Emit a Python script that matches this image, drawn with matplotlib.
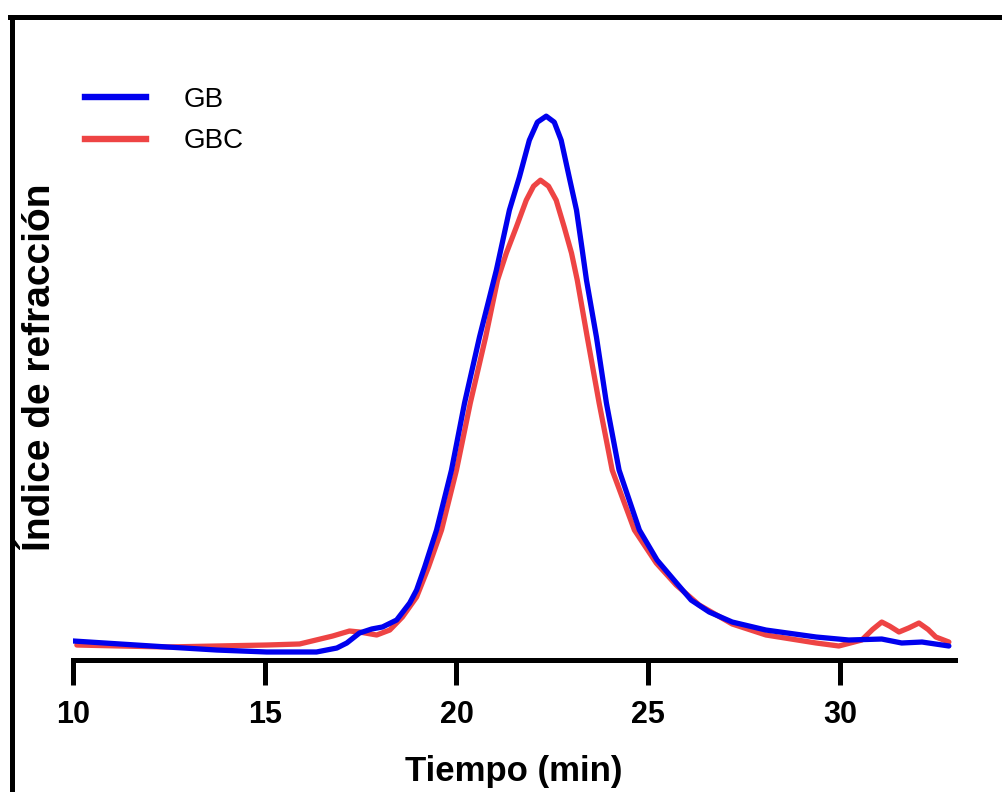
import matplotlib
matplotlib.use('Agg')
import matplotlib.pyplot as plt
from matplotlib.lines import Line2D

# Chromatogram traces (time in min, RI in arbitrary units)
gb_time = [10.00, 11.22, 12.45, 13.75, 15.05, 16.35, 16.88, 17.14, 17.47, 17.79,
           18.07, 18.44, 18.78, 18.96, 19.17, 19.48, 19.87, 20.21, 20.60, 21.04,
           21.38, 21.64, 21.90, 22.11, 22.34, 22.55, 22.73, 22.94, 23.13, 23.28,
           23.39, 23.65, 23.91, 24.24, 24.77, 25.23, 25.73, 26.12, 26.59, 27.19,
           28.07, 29.38, 30.23, 31.09, 31.61, 32.14, 32.84]
gb_ri = [3.49, 2.94, 2.39, 1.83, 1.47, 1.47, 2.20, 3.12, 4.95, 5.69,
         6.06, 7.34, 10.46, 12.84, 17.06, 23.85, 34.86, 47.16, 59.27, 71.56,
         82.57, 88.62, 95.41, 98.72, 99.82, 98.72, 95.41, 88.62, 82.57, 75.23,
         69.72, 59.27, 47.16, 34.86, 23.85, 18.35, 14.2, 11.0, 8.81, 6.97,
         5.50, 4.22, 3.67, 3.85, 3.12, 3.30, 2.57]

gbc_time = [10.10, 11.22, 12.45, 13.75, 15.05, 15.91, 16.77, 17.21, 17.47, 17.92,
            18.26, 18.59, 18.96, 19.27, 19.61, 20.00, 20.36, 20.76, 21.07, 21.30,
            21.56, 21.82, 22.01, 22.19, 22.40, 22.60, 22.81, 23.00, 23.15, 23.41,
            23.72, 24.06, 24.64, 25.21, 25.73, 26.33, 27.19, 28.07, 29.38, 29.97,
            30.57, 30.85, 31.09, 31.30, 31.54, 31.80, 32.06, 32.30, 32.50, 32.84]
gbc_ri = [2.75, 2.57, 2.39, 2.57, 2.75, 2.94, 4.40, 5.32, 5.14, 4.59,
          5.50, 7.89, 11.56, 17.06, 23.85, 34.86, 47.16, 59.27, 69.72, 74.68,
          79.45, 84.40, 86.97, 88.07, 86.97, 84.40, 79.45, 74.68, 69.72, 59.27,
          47.16, 34.86, 23.85, 17.80, 13.76, 10.09, 6.61, 4.59, 3.12, 2.57,
          3.67, 5.6, 6.97, 6.2, 5.14, 5.9, 6.79, 5.6, 4.22, 3.30]

x_ticks = [10, 15, 20, 25, 30]

W, H = 1003, 792
fig = plt.figure(figsize=(W / 100, H / 100), dpi=100)
ax = fig.add_axes([73 / W, 1 - 660 / H, (955 - 73) / W, (660 - 40) / H])

ax.plot(gbc_time, gbc_ri, color='#ee4444', lw=3.8, solid_joinstyle='round',
        solid_capstyle='round', label='GBC', zorder=2)
ax.plot(gb_time, gb_ri, color='#0000ee', lw=3.8, solid_joinstyle='round',
        solid_capstyle='round', label='GB', zorder=3)

ax.set_xlim(10, 33)
ax.set_ylim(0, 113.8)

for side in ['top', 'right', 'left']:
    ax.spines[side].set_visible(False)
ax.spines['bottom'].set_linewidth(3.6)
ax.set_yticks([])
ax.set_xticks(x_ticks)
ax.tick_params(axis='x', length=18, width=3.6, pad=11)
for lab in ax.get_xticklabels():
    lab.set_fontsize(22)
    lab.set_fontweight('bold')
    lab.set_fontfamily('Liberation Sans')

ax.set_xlabel('Tiempo (min)', fontsize=25, fontweight='bold',
              family='Liberation Sans', labelpad=18)
fig.text(40 / W, 1 - 367 / H, 'Índice de refracción', rotation=90,
         ha='center', va='center', fontsize=28, fontweight='bold',
         family='Liberation Sans')

handles = [Line2D([], [], color='#0000ee', lw=4.6),
           Line2D([], [], color='#ee4444', lw=4.6)]
ax.legend(handles, ['GB', 'GBC'], loc='upper left',
          bbox_to_anchor=(85 / W, 1 - 87 / H), bbox_transform=fig.transFigure,
          frameon=False, handlelength=2.2, handletextpad=1.35, labelspacing=0.55,
          borderpad=0, borderaxespad=0,
          prop={'family': 'Liberation Sans', 'size': 20})

# frame around the figure, cut off on the right and bottom like the original
fig.add_artist(Line2D([12.5 / W, 12.5 / W], [0, 1 - 17 / H], color='black',
                      lw=3.6, transform=fig.transFigure))
fig.add_artist(Line2D([10 / W, 1], [1 - 17 / H, 1 - 17 / H], color='black',
                      lw=3.6, transform=fig.transFigure))

fig.savefig('out.png', dpi=100)
